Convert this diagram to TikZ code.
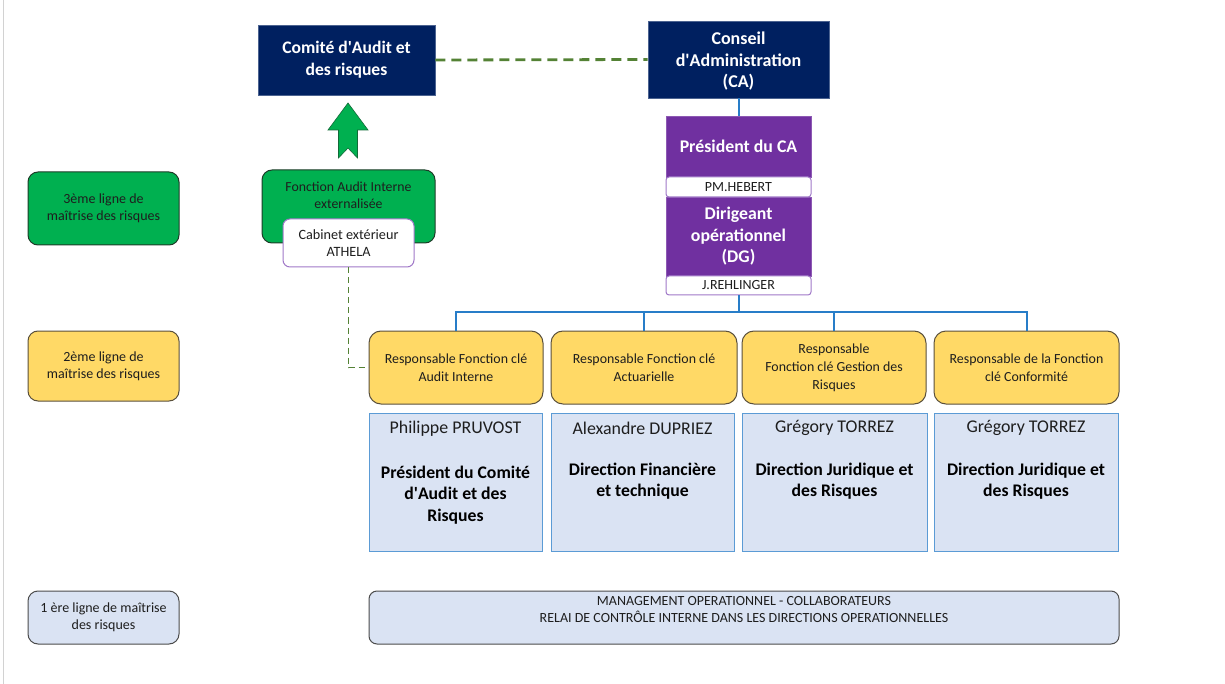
\documentclass[tikz,border=0pt]{standalone}
\usepackage{fontspec}
\setmainfont{Carlito}
\definecolor{navy}{RGB}{0,32,96}
\definecolor{purp}{RGB}{112,48,160}
\definecolor{lpurp}{RGB}{160,120,200}
\definecolor{gfill}{RGB}{0,176,80}
\definecolor{gedge}{RGB}{30,60,40}
\definecolor{yfill}{RGB}{255,217,102}
\definecolor{yedge}{RGB}{90,80,60}
\definecolor{bfill}{RGB}{218,227,243}
\definecolor{bedge}{RGB}{91,155,213}
\definecolor{bline}{RGB}{40,125,200}
\definecolor{gdashc}{RGB}{84,130,53}
\definecolor{txt}{RGB}{30,30,30}
\newcommand{\fs}[2]{\fontsize{#1}{#2}\selectfont}
\newcommand{\qq}{\textquotesingle}
\tikzset{
  navybox/.style={fill=navy, draw=navy!70!white, line width=0.8pt, text=white, align=center, font=\fs{18}{21.5}\bfseries},
  purpbox/.style={fill=purp, draw=purp!80!white, line width=0.6pt, text=white, align=center, font=\fs{17.8}{21.5}\bfseries},
  namebox/.style={fill=white, draw=lpurp, line width=1pt, rounded corners=3pt, text=txt, align=center, font=\fs{14}{14}},
  lvlbox/.style={rounded corners=10pt, line width=1pt, align=center, text=txt, font=\fs{14}{17}},
  yelbox/.style={fill=yfill, draw=yedge, rounded corners=12pt, line width=1pt, align=center, text=txt, font=\fs{13.9}{18}},
  bluebox/.style={fill=bfill, draw=bedge, line width=1pt},
  blueline/.style={draw=bline, line width=2pt},
  gdash/.style={draw=gdashc, line width=2.8pt, dash pattern=on 10pt off 6pt},
  gdashthin/.style={draw=gdashc, line width=1.8pt, dash pattern=on 6pt off 4pt},
}
\begin{document}
\begin{tikzpicture}[x=1pt,y=-1pt]
\useasboundingbox (0,0) rectangle (1225,684);
\fill[white] (0,0) rectangle (1225,684);
\draw[gray!35, line width=1pt] (3,0) -- (3,684);

% top boxes
\node[navybox, minimum width=177pt, minimum height=70pt, font=\fs{17.6}{22}\bfseries] (com) at (346.5,60) {Comité d\qq Audit et\\des risques};
\node[navybox, minimum width=181pt, minimum height=77pt] (ca) at (738.5,59.5) {};
\node[text=white, align=center, font=\fs{18}{21.5}\bfseries] (catxt) at (738.5,61.5) {Conseil\\d\qq Administration\\(CA)};
\draw[gdash] (com.east) -- (ca.west);

% green arrow
\draw[fill=gfill, draw=gedge!60!gfill, line width=0.6pt]
  (348,103) -- (368,130) -- (357.5,130) -- (357.5,158) -- (348,148) -- (338.5,158) -- (338.5,130) -- (328,130) -- cycle;

% fonction audit interne externalisée
\node[lvlbox, fill=gfill, draw=gedge, minimum width=173pt, minimum height=73pt] (fai) at (348.5,206.5) {};
\node[text=txt, align=center, font=\fs{13.8}{17}] (faitxt) at (348.5,195.5) {Fonction Audit Interne\\externalisée};
\node[namebox, rounded corners=7pt, minimum width=131pt, minimum height=48pt, font=\fs{14.2}{17}] (cab) at (348.5,243) {Cabinet extérieur\\ATHELA};

% purple column
\node[purpbox, minimum width=145pt, minimum height=61pt] (pres) at (738.5,146.5) {Président du CA};
\node[purpbox, minimum width=145pt, minimum height=79pt] (dg) at (738.5,236.5) {Dirigeant\\opérationnel\\(DG)};
\node[namebox, minimum width=145pt, minimum height=20pt] (pmh) at (738.5,187) {PM.HEBERT};
\node[namebox, minimum width=145pt, minimum height=19pt] (jr) at (738.5,285.5) {J.REHLINGER};
\draw[blueline] (ca.south) -- (pres.north);

% level labels
\node[lvlbox, fill=gfill, draw=gedge, minimum width=151pt, minimum height=73pt] (l3) at (103.5,208.5) {3ème ligne de\\maîtrise des risques};
\node[lvlbox, fill=yfill, draw=yedge, minimum width=151pt, minimum height=70pt] (l2) at (103.5,366) {2ème ligne de\\maîtrise des risques};
\node[lvlbox, fill=bfill, draw=black!70, minimum width=151pt, minimum height=53pt] (l1) at (103.5,617.5) {1 ère ligne de maîtrise\\des risques};

% yellow boxes
\node[yelbox, minimum width=174pt, minimum height=73pt] (ra1) at (456,367.5) {Responsable Fonction clé\\Audit Interne};
\node[yelbox, minimum width=186pt, minimum height=73pt] (ra2) at (644,367.5) {Responsable Fonction clé\\Actuarielle};
\node[yelbox, minimum width=184pt, minimum height=73pt] (ra3) at (834,367.5) {Responsable\\Fonction clé Gestion des\\Risques};
\node[yelbox, minimum width=185pt, minimum height=73pt] (ra4) at (1026.5,367.5) {Responsable de la Fonction\\clé Conformité};

\draw[blueline] (jr.south) -- ++(0,17) coordinate (bus);
\draw[blueline] (bus) -| (ra1.north);
\draw[blueline] (bus) -| (ra2.north);
\draw[blueline] (bus) -| (ra3.north);
\draw[blueline] (bus) -| (ra4.north);

\draw[gdashthin] (cab.south) |- (ra1.west);

% blue boxes
\node[bluebox, minimum width=173pt, minimum height=138pt] (b1) at (455.5,482) {};
\node[bluebox, minimum width=183pt, minimum height=138pt] (b2) at (642.5,482) {};
\node[bluebox, minimum width=185pt, minimum height=138pt] (b3) at (834.5,482) {};
\node[bluebox, minimum width=184pt, minimum height=138pt] (b4) at (1026,482) {};
\tikzset{nm/.style={text=txt, font=\fs{17.9}{20}}, dept/.style={text=black, align=center, font=\fs{17.7}{21.5}\bfseries}}
\node[nm] (n1) at (455.5,429) {Philippe PRUVOST};
\node[nm] (n2) at (642.5,428) {Alexandre DUPRIEZ};
\node[nm] (n3) at (834.5,428) {Grégory TORREZ};
\node[nm] (n4) at (1026,428) {Grégory TORREZ};
\node[dept] (d1) at (455.5,495) {Président du Comité\\d\qq Audit et des\\Risques};
\node[dept] (d2) at (642.5,481) {Direction Financière\\et technique};
\node[dept] (d3) at (834.5,481) {Direction Juridique et\\des Risques};
\node[dept] (d4) at (1026,481) {Direction Juridique et\\des Risques};

% bottom
\node[lvlbox, rounded corners=8pt, fill=bfill, draw=black!70, minimum width=750pt, minimum height=53pt] (mgmt) at (744,617.5) {};
\node[text=txt, align=center, font=\fs{14}{17}] (mgmttxt) at (744,609.5) {MANAGEMENT OPERATIONNEL - COLLABORATEURS\\RELAI DE CONTRÔLE INTERNE DANS LES DIRECTIONS OPERATIONNELLES};
\end{tikzpicture}
\end{document}
